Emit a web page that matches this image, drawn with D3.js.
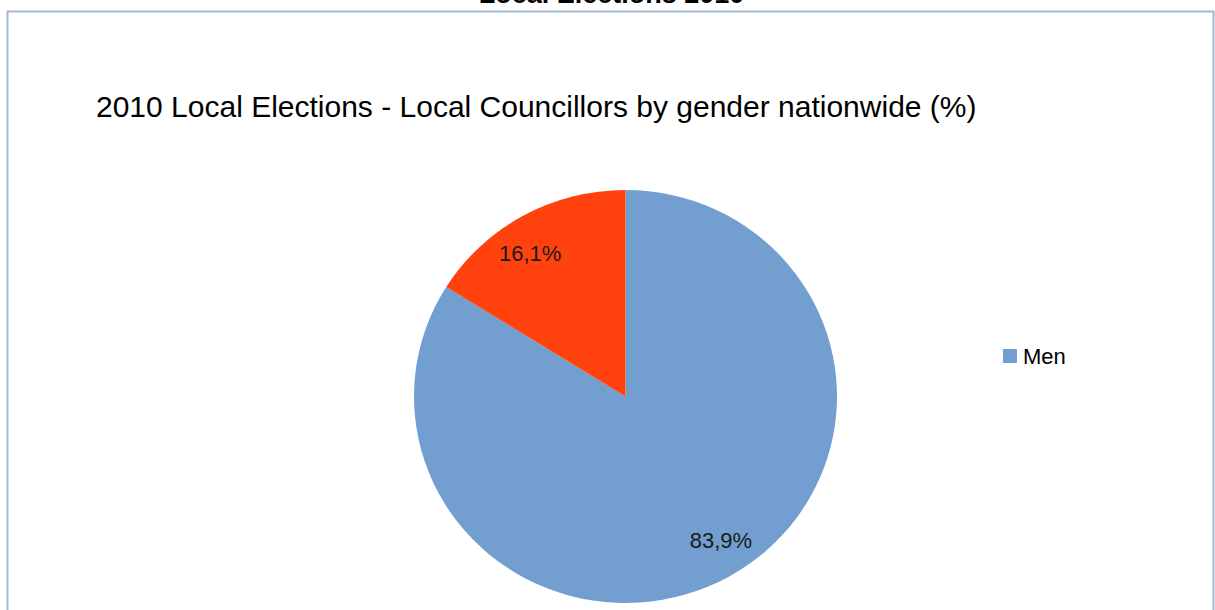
<!DOCTYPE html>
<html>
<head>
<meta charset="utf-8">
<script src="https://cdn.jsdelivr.net/npm/d3@7"></script>
<style>
  html, body { margin: 0; padding: 0; background: #fff; overflow: hidden; }
  text { font-family: "Liberation Sans", Arial, sans-serif; }
</style>
</head>
<body>
<div id="chart"></div>
<script>
// data
const pageTitle = "Local Elections 2010";
const chartTitle = "2010 Local Elections - Local Councillors by gender nationwide (%)";
const categories = ["Men", "Women"];
const values = [83.9, 16.1];
const legendItems = ["Men"];

const colors = { "Men": "#729fcf", "Women": "#ff420e" };

const width = 1215, height = 610;
const cx = 625.5, cy = 396.5;
const r = 206.5, sx = 211.5 / 206.5;
const labelR = 171;

const svg = d3.select("#chart").append("svg")
  .attr("width", width)
  .attr("height", height);

// frame
svg.append("rect")
  .attr("x", 7.5).attr("y", 11.5)
  .attr("width", 1206).attr("height", 640)
  .attr("fill", "none")
  .attr("stroke", "#a4b8d2")
  .attr("stroke-width", 2);

svg.append("text")
  .attr("x", 611.5).attr("y", 3)
  .attr("text-anchor", "middle")
  .attr("font-size", 27)
  .attr("font-weight", "bold")
  .text(pageTitle);

svg.append("text")
  .attr("x", 96).attr("y", 117)
  .attr("font-size", 30)
  .attr("fill", "#000")
  .text(chartTitle);

const data = categories.map((c, i) => ({ Name: c, Value: values[i] }));

const pie = d3.pie().value(d => d.Value).sort(null);
const arcs = pie(data);

const arc = d3.arc().innerRadius(0).outerRadius(r);

const g = svg.append("g")
  .attr("transform", `translate(${cx},${cy}) scale(${sx},1)`);

g.selectAll("path")
  .data(arcs)
  .enter().append("path")
  .attr("d", arc)
  .attr("fill", d => colors[d.data.Name]);

const fmt = v => d3.format(".1f")(v).replace(".", ",") + "%";
// label angle, nudged a little counter-clockwise like the original
const midA = d => (d.startAngle + d.endAngle) / 2 - 0.07;

svg.selectAll(".lbl")
  .data(arcs)
  .enter().append("text")
  .attr("class", "lbl")
  .attr("text-anchor", "middle")
  .attr("font-size", 22)
  .attr("fill", "#1a1a1a")
  .attr("x", d => cx + labelR * Math.sin(midA(d)) * sx)
  .attr("y", d => cy - labelR * Math.cos(midA(d)) + 8)
  .text(d => fmt(d.data.Value));

// legend
const legend = svg.selectAll(".legend")
  .data(legendItems)
  .enter().append("g")
  .attr("class", "legend")
  .attr("transform", (d, i) => `translate(1003,${349 + i * 26})`);

legend.append("rect")
  .attr("width", 14).attr("height", 14)
  .attr("fill", d => colors[d]);

legend.append("text")
  .attr("x", 20).attr("y", 15)
  .attr("font-size", 22)
  .text(d => d);
</script>
</body>
</html>
